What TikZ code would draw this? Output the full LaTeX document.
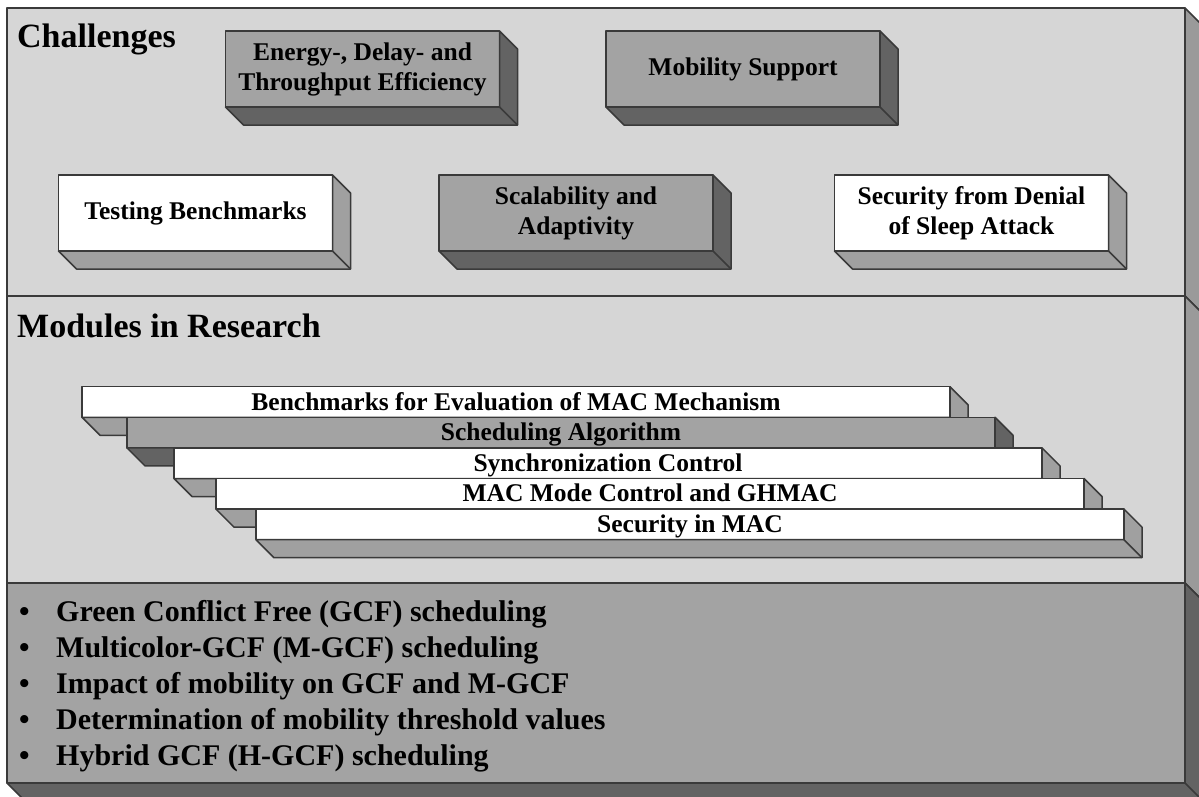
\documentclass[tikz,border=0pt]{standalone}
\usepackage{fontspec}
\setmainfont{Liberation Serif}
\usetikzlibrary{calc}

\definecolor{panelgray}{HTML}{D6D6D6}
\definecolor{midgray}{HTML}{A3A3A3}
\definecolor{darkface}{HTML}{636363}
\definecolor{lightface}{HTML}{A0A0A0}
\definecolor{panelface}{HTML}{9A9A9A}
\definecolor{rimgray}{HTML}{3A3A3A}

\tikzset{
  rim/.style={draw=rimgray, line width=1.5pt, line join=round},
  plate/.style={rim, line width=2pt, fill=#1, minimum width=1178pt, inner sep=0pt, outer sep=0pt},
  slab/.style={rim, fill=#1, minimum width=274pt, minimum height=76pt, inner sep=2pt, outer sep=0pt,
    align=center, font=\fontsize{25.5}{30}\selectfont\bfseries},
  rung/.style={rim, fill=#1, minimum width=868pt, minimum height=30.6pt, inner sep=0pt, outer sep=0pt,
    text height=19pt, text depth=3pt, font=\fontsize{25.5}{30}\selectfont\bfseries},
  heading/.style={anchor=base west, inner sep=0pt, font=\fontsize{34}{40}\selectfont\bfseries},
  listline/.style={anchor=base west, inner sep=0pt, font=\fontsize{30}{36}\selectfont\bfseries},
}
\def\dep{18}
% side and bottom faces of a raised node
\newcommand{\depthfaces}[2]{%
  \draw[rim, fill=#2] (#1.south west) -- ++(\dep,\dep) -| ($(#1.north east)+(\dep,\dep)$)
    -- (#1.north east) -- (#1.south east) -- cycle;
  \draw[rim] (#1.south east) -- ++(\dep,\dep);}

\begin{document}
\begin{tikzpicture}[x=1pt, y=-1pt]
  \useasboundingbox (0,0) rectangle (1199,796);
  \clip (0,0) rectangle (1199,796);

  % the three layers
  \node[plate=panelgray, minimum height=288pt] (challenges) at (596,152) {};
  \depthfaces{challenges}{panelface}
  \node[plate=panelgray, minimum height=287pt] (modules) at (596,439.5) {};
  \depthfaces{modules}{panelface}
  \node[plate=midgray, minimum height=200pt] (results) at (596,683) {};
  \depthfaces{results}{darkface}

  \node[heading] (chaltitle) at (17,47) {Challenges};
  \node[heading] (modtitle) at (17,337) {Modules in Research};

  % challenges
  \node[slab=midgray] (energy) at (362.5,69) {Energy-, Delay- and\\Throughput Efficiency};
  \depthfaces{energy}{darkface}
  \node[slab=midgray] (mobility) at (743,69) {Mobility Support};
  \depthfaces{mobility}{darkface}
  \node[slab=white] (testing) at (195.5,213) {Testing Benchmarks};
  \depthfaces{testing}{lightface}
  \node[slab=midgray] (scalability) at (576,213) {Scalability and\\Adaptivity};
  \depthfaces{scalability}{darkface}
  \node[slab=white] (security) at (971.5,213) {Security from Denial\\of Sleep Attack};
  \depthfaces{security}{lightface}

  % stacked modules
  \foreach \name/\txt/\fc/\sc/\xc [count=\i] in {
      bench/Benchmarks for Evaluation of MAC Mechanism/white/lightface/516,
      sched/Scheduling Algorithm/midgray/darkface/561,
      sync/Synchronization Control/white/lightface/608,
      mode/MAC Mode Control and GHMAC/white/lightface/650,
      macsec/Security in MAC/white/lightface/690}{
    \node[rung=\fc] (\name) at (\xc,{402+30.6*(\i-1)}) {\txt};
    \depthfaces{\name}{\sc}
  }

  % work items
  \foreach \txt [count=\i] in {Green Conflict Free (GCF) scheduling,
      Multicolor-GCF (M-GCF) scheduling,
      Impact of mobility on GCF and M-GCF,
      Determination of mobility threshold values,
      Hybrid GCF (H-GCF) scheduling}
    \node[listline] (goal\i) at (19,{621+36.2*(\i-1)}) {\makebox[37pt][l]{\textbullet}\txt};
\end{tikzpicture}
\end{document}
